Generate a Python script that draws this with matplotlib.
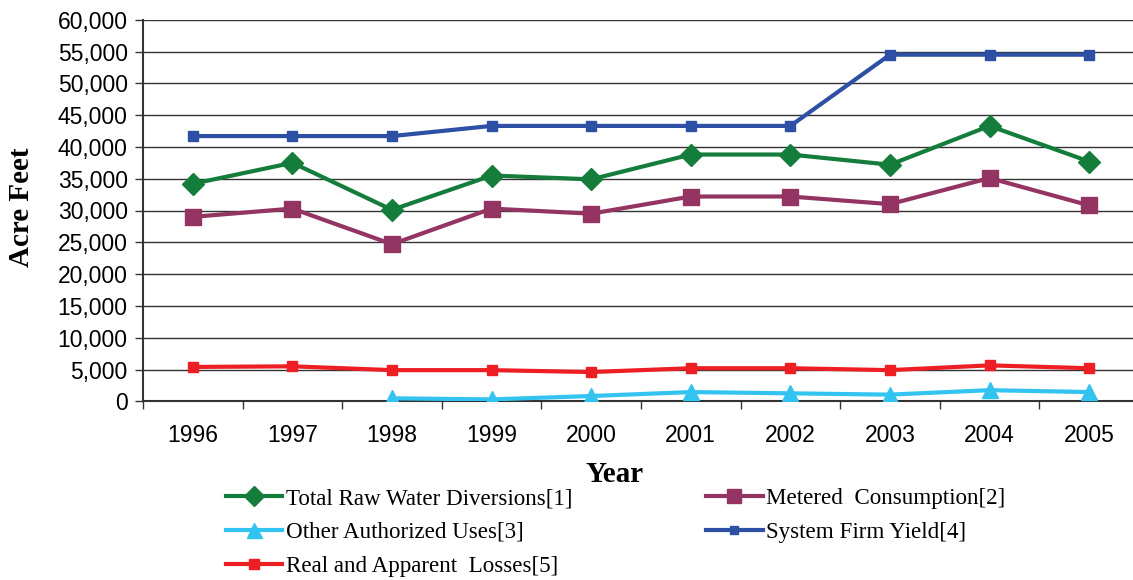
import numpy as np
import matplotlib
matplotlib.use("Agg")
import matplotlib.pyplot as plt
from matplotlib.ticker import FuncFormatter, FixedLocator

# water use totals, acre feet per year
years = ["1996", "1997", "1998", "1999", "2000", "2001", "2002", "2003", "2004", "2005"]
total_raw = [34200, 37500, 30100, 35500, 34900, 38800, 38800, 37200, 43300, 37700]
metered = [29000, 30300, 24700, 30300, 29500, 32200, 32200, 31000, 35100, 30800]
other_uses = [np.nan, np.nan, 470, 300, 830, 1450, 1250, 1050, 1750, 1450]
firm_yield = [41700, 41700, 41700, 43300, 43300, 43300, 43300, 54500, 54500, 54500]
losses = [5400, 5500, 4900, 4900, 4600, 5200, 5200, 4900, 5650, 5200]

labels = ["Total Raw Water Diversions[1]", "Metered  Consumption[2]",
          "Other Authorized Uses[3]", "System Firm Yield[4]",
          "Real and Apparent  Losses[5]"]

serif = "Liberation Serif"
sans = "Liberation Sans"

fig = plt.figure(figsize=(11.33, 5.8), dpi=100)
ax = fig.add_axes([143 / 1133, 1 - 401.3 / 580, 990 / 1133, (401.3 - 19.7) / 580])

x = np.arange(len(years))
lw = 3.0
h1, = ax.plot(x, total_raw, color="#157D3C", lw=lw, marker="D", ms=11, zorder=3)
h2, = ax.plot(x, metered, color="#943462", lw=lw, marker="s", ms=11, zorder=3)
h3, = ax.plot(x, other_uses, color="#33C3F0", lw=lw, marker="^", ms=12, zorder=3)
h4, = ax.plot(x, firm_yield, color="#2D50A5", lw=lw, marker="s", ms=6.5, zorder=3)
h5, = ax.plot(x, losses, color="#ED1E24", lw=lw, marker="s", ms=7.5, zorder=3)

ax.set_xlim(-0.5, 9.44)
ax.set_ylim(0, 60000)
ax.set_yticks(np.arange(0, 60001, 5000))
ax.yaxis.set_major_formatter(FuncFormatter(lambda v, p: f"{v:,.0f}"))
ax.grid(axis="y", color="#333333", lw=1.0, zorder=1)
ax.set_axisbelow(True)

# category labels centred, tick marks on the boundaries
ax.set_xticks(x)
ax.set_xticklabels(years)
ax.tick_params(axis="x", which="major", length=0, pad=16)
ax.xaxis.set_minor_locator(FixedLocator(np.arange(-0.5, 10, 1)))
ax.tick_params(axis="x", which="minor", length=6, width=1, color="#333333")
ax.tick_params(axis="y", length=6, width=1, color="#333333", pad=5)
for lab in ax.get_xticklabels() + ax.get_yticklabels():
    lab.set_fontfamily(sans)
    lab.set_fontsize(16.5)

for s in ["top", "right"]:
    ax.spines[s].set_visible(False)
for s in ["left", "bottom"]:
    ax.spines[s].set_color("#333333")
    ax.spines[s].set_linewidth(1.5)

fig.text(22 / 1133, 1 - 207 / 580, "Acre Feet", rotation=90, ha="center", va="center",
         fontfamily=serif, fontweight="bold", fontsize=21)
fig.text(615 / 1133, 1 - 475 / 580, "Year", ha="center", va="center",
         fontfamily=serif, fontweight="bold", fontsize=21)

# legend filled column by column, so order handles to read across rows
order = [0, 2, 4, 1, 3]
handles = [h1, h2, h3, h4, h5]
fig.legend([handles[i] for i in order], [labels[i] for i in order], ncol=2,
           loc="upper left", bbox_to_anchor=(226 / 1133, 1 - 488 / 580),
           frameon=False, prop={"family": serif, "size": 16.6}, handlelength=2.45,
           handletextpad=0.15, columnspacing=5.8, labelspacing=0.55,
           borderpad=0, borderaxespad=0, markerscale=0.9)

fig.savefig("out.png", dpi=100)
plt.close(fig)
